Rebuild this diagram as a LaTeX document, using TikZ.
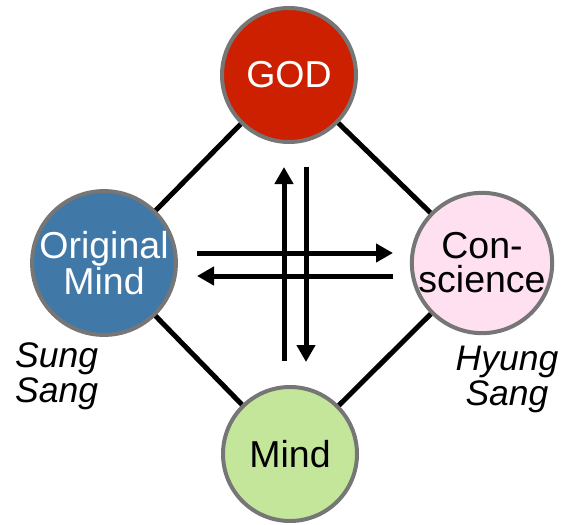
\documentclass[tikz,border=0pt]{standalone}
\usepackage{fontspec}
\setmainfont{Liberation Sans}
\usetikzlibrary{arrows.meta}
\definecolor{godred}{RGB}{204,32,0}
\definecolor{omblue}{RGB}{64,120,168}
\definecolor{cspink}{RGB}{255,224,240}
\definecolor{mdgreen}{RGB}{196,230,155}
\definecolor{rimgray}{RGB}{118,118,118}
\tikzset{
  ball/.style={circle, draw=rimgray, line width=4pt, minimum size=134pt, inner sep=0pt,
    align=center, font=\fontsize{37.5}{34}\selectfont},
  edge/.style={line width=5pt, black},
  flow/.style={line width=5pt, black, -{Triangle[length=17pt,width=18pt]}},
  tag/.style={font=\fontsize{35.5}{35}\selectfont\itshape, inner sep=0pt}
}
\begin{document}
\begin{tikzpicture}[x=1pt,y=-1pt]
\useasboundingbox (0,0) rectangle (564,524);
\node[ball, fill=godred, text=white] (god) at (289,75) {GOD};
\node[ball, fill=omblue, text=white] (om) at (104,263) {Original\\Mind};
\node[ball, fill=cspink] (cs) at (482,263) {Con-\\science};
\node[ball, fill=mdgreen] (md) at (290,454) {Mind};
\draw[edge] (god) -- (om);
\draw[edge] (god) -- (cs);
\draw[edge] (om) -- (md);
\draw[edge] (cs) -- (md);
\coordinate (u0) at (284,361);
\coordinate (u1) at (284,167);
\coordinate (d0) at (306,167);
\coordinate (d1) at (306,362);
\coordinate (r0) at (197,253);
\coordinate (r1) at (393,253);
\coordinate (l0) at (393,276);
\coordinate (l1) at (197,276);
\draw[flow] (u0) -- (u1);
\draw[flow] (d0) -- (d1);
\draw[flow] (r0) -- (r1);
\draw[flow] (l0) -- (l1);
\node[tag, anchor=base west, align=left] (ss) at (15,402) {Sung\\Sang};
\node[tag, anchor=base, align=center] (hs) at (507,405) {Hyung\\Sang};
\end{tikzpicture}
\end{document}
